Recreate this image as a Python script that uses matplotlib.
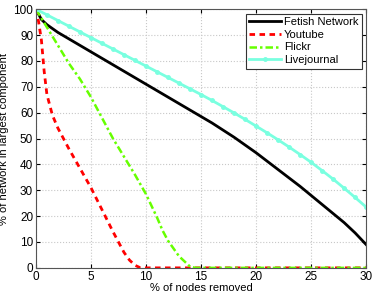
import matplotlib
matplotlib.use("Agg")
import matplotlib.pyplot as plt

plt.rcParams["font.family"] = ["Liberation Sans", "DejaVu Sans"]

# Fetish network
fetish_x = [0, 0.5, 1, 2, 3, 4, 5, 6, 8, 10, 12, 14, 15, 16, 18, 20, 22, 24, 25, 26, 28, 29, 30]
fetish_y = [100, 96, 94, 91, 88.5, 86, 83.5, 81, 76, 71, 66, 61, 58.5, 56, 50.5, 44.5, 38, 31.5, 28, 24.5, 17.5, 13.5, 9]

# Youtube
yt_x = [0, 0.25, 0.5, 0.75, 1, 1.5, 2, 3, 4, 5, 6, 7, 8, 8.5, 9, 9.5, 30]
yt_y = [100, 95, 88, 76, 67, 59, 54, 46, 38.5, 31, 22.5, 14, 6, 3, 1, 0, 0]

# Flickr
fl_x = [0, 1, 2, 3, 4, 5, 6, 7, 8, 9, 10, 11, 11.5, 12, 13, 14, 14.5, 30]
fl_y = [100, 93, 86, 79, 73, 66, 58, 50, 43, 36, 28.5, 19.5, 14.5, 10.5, 4.5, 0.5, 0, 0]

# Livejournal (one point per % removed)
lj_x = list(range(0, 31))
lj_y = [100, 97.8, 95.6, 93.4, 91.2, 89, 86.8, 84.6, 82.4, 80.2, 78, 75.8, 73.6, 71.4, 69.2, 67,
        64.7, 62.3, 59.9, 57.4, 54.8, 52.2, 49.5, 46.7, 43.8, 40.8, 37.6, 34.3, 30.8, 27.2, 23.5]

fig = plt.figure(figsize=(3.74, 2.95), dpi=100)
ax = fig.add_axes([0.096, 0.092, 0.883, 0.877])

ax.plot(fetish_x, fetish_y, color="black", lw=2, label="Fetish Network")
ax.plot(yt_x, yt_y, color="red", lw=2, ls=(0, (2, 1.6)), label="Youtube")
ax.plot(fl_x, fl_y, color="#66ff00", lw=1.8, ls=(0, (3, 1.2, 1, 1.2)), label="Flickr")
ax.plot(lj_x, lj_y, color="#7affe0", lw=2, marker=".", ms=5, label="Livejournal")

ax.set_xlim(0, 30)
ax.set_ylim(0, 100)
ax.set_xticks(range(0, 31, 5))
ax.set_yticks(range(0, 101, 10))
ax.grid(True, ls=":", color="#c8c8c8", lw=0.8)
ax.tick_params(direction="in", labelsize=8.5, length=3, pad=2, top=True, right=True)
ax.set_xlabel("% of nodes removed", fontsize=8, labelpad=0)
ax.set_ylabel("% of network in largest component", fontsize=8, labelpad=3)
for s in ax.spines.values():
    s.set_color("#555555")
    s.set_linewidth(0.8)

leg = ax.legend(loc="upper right", fontsize=8, fancybox=False, edgecolor="#333333",
                handlelength=2.8, handletextpad=0.3, borderpad=0.3, labelspacing=0.25,
                borderaxespad=0.4, framealpha=1)
leg.get_frame().set_linewidth(0.8)

fig.savefig("out.png", dpi=100)
